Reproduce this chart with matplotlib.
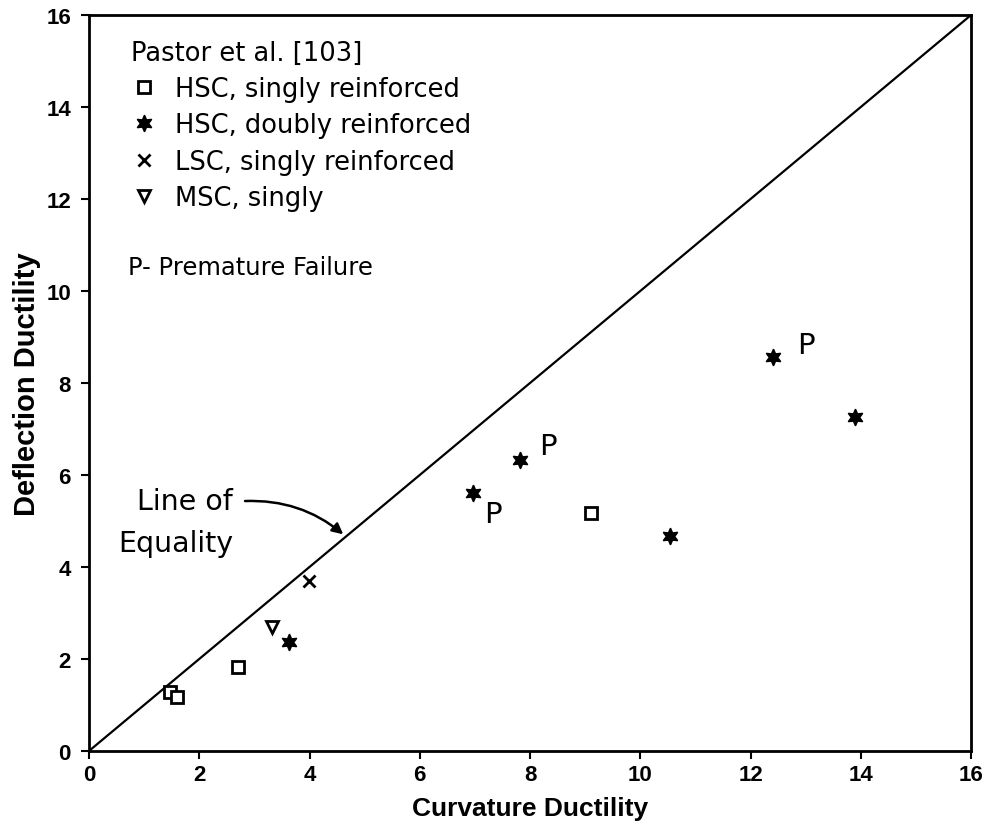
import matplotlib.pyplot as plt

# HSC, singly reinforced
hsc_single_x = [1.47, 1.60, 2.70, 9.10]
hsc_single_y = [1.28, 1.17, 1.83, 5.18]
# HSC, doubly reinforced
hsc_double_x = [3.63, 6.97, 7.82, 10.54, 12.41, 13.90]
hsc_double_y = [2.37, 5.61, 6.33, 4.67, 8.57, 7.26]
# LSC, singly reinforced
lsc_single_x = [3.99]
lsc_single_y = [3.70]
# MSC, singly
msc_single_x = [3.32]
msc_single_y = [2.70]
# "P" (premature failure) label positions
premature_x = [7.33, 8.33, 13.0]
premature_y = [5.15, 6.63, 8.83]

ticks = [0, 2, 4, 6, 8, 10, 12, 14, 16]

fig = plt.figure(figsize=(9.91, 8.37), dpi=100)
ax = fig.add_axes([0.0898, 0.1016, 0.8902, 0.8794])

ax.plot([0, 16], [0, 16], color="black", lw=1.6, zorder=1)

ax.plot(hsc_single_x, hsc_single_y, ls="none", marker="s", ms=8, mfc="white",
        mec="black", mew=2, label="HSC, singly reinforced")
ax.plot(hsc_double_x, hsc_double_y, ls="none", marker=(6, 1, 0), ms=12,
        color="black", label="HSC, doubly reinforced")
ax.plot(lsc_single_x, lsc_single_y, ls="none", marker="x", ms=8, mew=2,
        color="black", label="LSC, singly reinforced")
ax.plot(msc_single_x, msc_single_y, ls="none", marker="v", ms=8, mfc="white",
        mec="black", mew=2, label="MSC, singly")

for x, y in zip(premature_x, premature_y):
    ax.text(x, y, "P", fontsize=21, ha="center", va="center")

ax.legend(loc="upper left", bbox_to_anchor=(0.036, 0.98), frameon=False,
          title="Pastor et al. [103]", alignment="left", fontsize=18.5,
          title_fontsize=18.5, handlelength=1.0, handletextpad=0.7,
          labelspacing=0.4, borderaxespad=0)

ax.text(0.7, 10.52, "P- Premature Failure", fontsize=17.5, ha="left",
        va="center")

ax.text(2.61, 5.43, "Line of", fontsize=20.5, ha="right", va="center")
ax.text(2.61, 4.52, "Equality", fontsize=20.5, ha="right", va="center")
ax.annotate("", xy=(4.65, 4.67), xytext=(2.78, 5.43),
            arrowprops=dict(arrowstyle="-|>", color="black", lw=1.8,
                            mutation_scale=16,
                            connectionstyle="arc3,rad=-0.2"))

ax.set_xlim(0, 16)
ax.set_ylim(0, 16)
ax.set_xticks(ticks)
ax.set_yticks(ticks)
ax.tick_params(direction="out", length=6, width=1.5, labelsize=16)
ax.tick_params(axis="y", pad=7)
for lab in ax.get_xticklabels() + ax.get_yticklabels():
    lab.set_fontweight("bold")
    lab.set_family("Liberation Sans")
for sp in ax.spines.values():
    sp.set_linewidth(2)

ax.set_xlabel("Curvature Ductility", fontsize=19, fontweight="bold",
              family="Liberation Sans", labelpad=8)
ax.set_ylabel("Deflection Ductility", fontsize=21, fontweight="bold",
              family="Liberation Sans", labelpad=4)

fig.savefig("out.png", dpi=100)
